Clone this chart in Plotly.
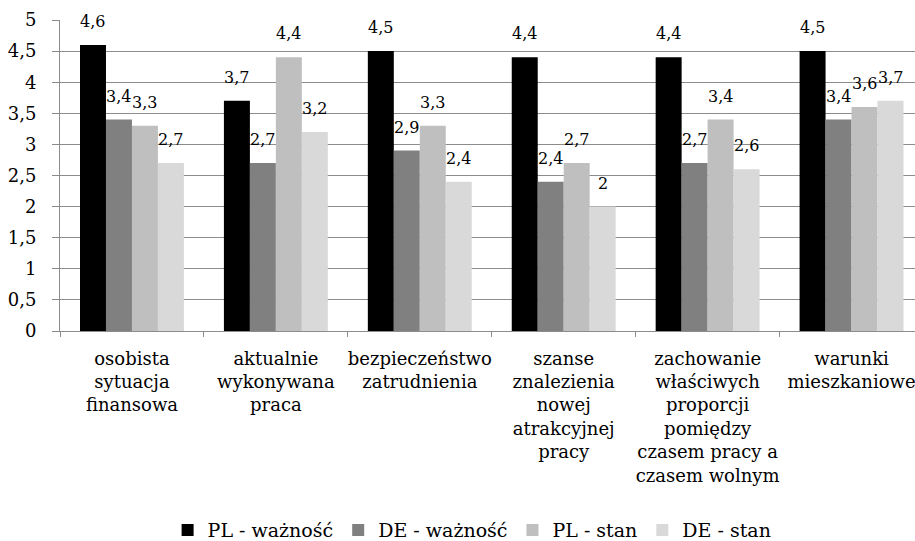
import plotly.graph_objects as go

categories = [
    "osobista<br>sytuacja<br>finansowa",
    "aktualnie<br>wykonywana<br>praca",
    "bezpieczeństwo<br>zatrudnienia",
    "szanse<br>znalezienia<br>nowej<br>atrakcyjnej<br>pracy",
    "zachowanie<br>właściwych<br>proporcji<br>pomiędzy<br>czasem pracy a<br>czasem wolnym",
    "warunki<br>mieszkaniowe",
]
series_names = ["PL - ważność", "DE - ważność", "PL - stan", "DE - stan"]
pl_waznosc = [4.6, 3.7, 4.5, 4.4, 4.4, 4.5]
de_waznosc = [3.4, 2.7, 2.9, 2.4, 2.7, 3.4]
pl_stan = [3.3, 4.4, 3.3, 2.7, 3.4, 3.6]
de_stan = [2.7, 3.2, 2.4, 2.0, 2.6, 3.7]
colors = ["#000000", "#808080", "#BFBFBF", "#D9D9D9"]
y_ticks = [0, 0.5, 1, 1.5, 2, 2.5, 3, 3.5, 4, 4.5, 5]

series = [pl_waznosc, de_waznosc, pl_stan, de_stan]
FONT = "DejaVu Serif"
GRID = "#8C8C8C"
BARGAP = 0.278

fig = go.Figure()
for name, vals, col in zip(series_names, series, colors):
    fig.add_trace(go.Bar(
        x=categories, y=vals, name=name,
        marker=dict(color=col, line=dict(width=0)),
    ))

# data labels
n = len(series)
bw = (1 - BARGAP) / n
annotations = []
for j, vals in enumerate(series):
    off = -(1 - BARGAP) / 2 + (j + 0.5) * bw
    for i, v in enumerate(vals):
        annotations.append(dict(
            x=i + off, y=v, xref="x", yref="y",
            text=f"{v:g}".replace(".", ","),
            showarrow=False, yanchor="bottom", xanchor="center",
            yshift=12, font=dict(family=FONT, size=16, color="#000000"),
        ))

fig.update_layout(
    width=915, height=541,
    margin=dict(l=60, r=0, t=20, b=210, autoexpand=False),
    paper_bgcolor="white", plot_bgcolor="white",
    barmode="group", bargap=BARGAP, bargroupgap=0,
    separators=", ",
    font=dict(family=FONT, color="#000000"),
    annotations=annotations,
    showlegend=True,
    legend=dict(
        orientation="h", x=0.482, xanchor="center", y=-0.64, yanchor="middle",
        font=dict(family=FONT, size=19, color="#000000"),
        itemwidth=30, traceorder="normal",
    ),
    xaxis=dict(
        type="category", range=[-0.5, 5.441],
        showline=True, linecolor=GRID, linewidth=1,
        ticks="outside", ticklen=5, tickcolor=GRID, tickson="boundaries",
        tickfont=dict(family=FONT, size=18, color="#000000"),
        tickangle=0,
        ticklabelstandoff=11, showgrid=False, zeroline=False, automargin=False,
    ),
    yaxis=dict(
        range=[0, 5], tickvals=y_ticks,
        showline=True, linecolor=GRID, linewidth=1,
        ticks="outside", ticklen=7, tickcolor=GRID,
        showgrid=True, gridcolor=GRID, gridwidth=1, zeroline=False,
        tickfont=dict(family=FONT, size=18, color="#000000"),
        ticklabelstandoff=12, automargin=False,
    ),
)

fig.write_html("out.html", config={"displayModeBar": False},
               post_script="document.body.style.margin='0';")
